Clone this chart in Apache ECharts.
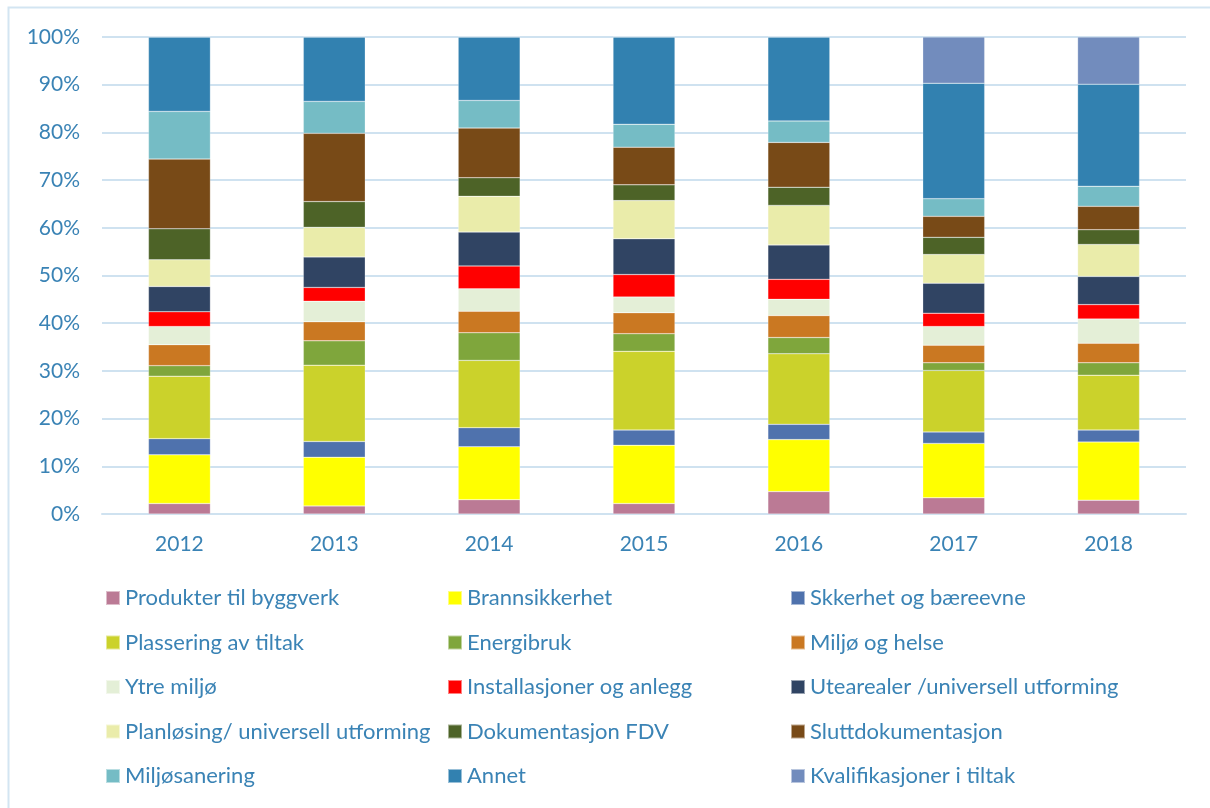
<!DOCTYPE html>
<html>
<head>
<meta charset="utf-8">
<script src="https://cdn.jsdelivr.net/npm/echarts@6/dist/echarts.min.js"></script>
<style>
  html, body { margin: 0; padding: 0; background: #fff; }
  #chart { width: 1210px; height: 808px; }
</style>
</head>
<body>
<div id="chart"></div>
<script>
var years = ['2012', '2013', '2014', '2015', '2016', '2017', '2018'];
var yTicks = [0, 10, 20, 30, 40, 50, 60, 70, 80, 90, 100];

// share of each category per year, in percent (bottom to top of each bar)
var produkter    = [2.2, 1.7, 3.0, 2.2, 4.7, 3.4, 2.9];
var brann        = [10.2, 10.2, 11.1, 12.2, 10.9, 11.4, 12.2];
var sikkerhet    = [3.4, 3.3, 4.0, 3.2, 3.2, 2.4, 2.5];
var plassering   = [13.1, 16.0, 14.1, 16.5, 14.8, 12.9, 11.5];
var energi       = [2.2, 5.1, 5.8, 3.7, 3.4, 1.6, 2.6];
var miljoHelse   = [4.4, 4.0, 4.5, 4.4, 4.6, 3.7, 4.1];
var ytreMiljo    = [3.8, 4.3, 4.7, 3.3, 3.4, 3.9, 5.1];
var installasjon = [3.1, 2.9, 4.8, 4.7, 4.2, 2.8, 3.0];
var utearealer   = [5.3, 6.4, 7.1, 7.5, 7.2, 6.3, 5.9];
var planlosing   = [5.6, 6.2, 7.5, 8.0, 8.3, 6.0, 6.7];
var dokFdv       = [6.5, 5.4, 3.9, 3.3, 3.8, 3.6, 3.1];
var sluttdok     = [14.6, 14.3, 10.4, 7.9, 9.4, 4.4, 4.9];
var miljosanering= [10.0, 6.7, 5.8, 4.8, 4.5, 3.7, 4.2];
var annet        = [15.6, 13.5, 13.3, 18.3, 17.6, 24.2, 21.4];
var kvalifikasjon= [0, 0, 0, 0, 0, 9.7, 9.9];

var names = [
  'Produkter til byggverk', 'Brannsikkerhet', 'Skkerhet og bæreevne',
  'Plassering av tiltak', 'Energibruk', 'Miljø og helse',
  'Ytre miljø', 'Installasjoner og anlegg', 'Utearealer /universell utforming',
  'Planløsing/ universell utforming', 'Dokumentasjon FDV', 'Sluttdokumentasjon',
  'Miljøsanering', 'Annet', 'Kvalifikasjoner i tiltak'
];
var values = [produkter, brann, sikkerhet, plassering, energi, miljoHelse, ytreMiljo,
  installasjon, utearealer, planlosing, dokFdv, sluttdok, miljosanering, annet, kvalifikasjon];
var colors = ['#bb7a95', '#ffff00', '#4f72ad', '#cbd22b', '#7fa63c', '#ca7822', '#e4efd7',
  '#ff0000', '#304463', '#eaecaa', '#4d6327', '#784a17', '#75bcc5', '#3281b0', '#728cbd'];

var blue = '#3a83b5';
var font = 'Lato';

var series = names.map(function (n, i) {
  return {
    name: n,
    type: 'bar',
    stack: 'total',
    barWidth: '40%',
    data: values[i],
    itemStyle: { color: colors[i], borderColor: 'rgba(255,255,255,0.5)', borderWidth: 0.5 }
  };
});

// legend in three columns, row-major like the original
function legendCol(col, left) {
  var d = names.filter(function (n, i) { return i % 3 === col; });
  return {
    data: d,
    orient: 'vertical',
    left: left,
    top: 582,
    itemWidth: 14,
    itemHeight: 14,
    itemGap: 22.5,
    icon: 'rect',
    textStyle: { color: blue, fontSize: 22, lineHeight: 22, fontFamily: font }
  };
}

var chart = echarts.init(document.getElementById('chart'));
chart.setOption({
  backgroundColor: '#fff',
  animation: false,
  color: colors,
  graphic: [{
    type: 'rect',
    shape: { x: 8.5, y: 7.5, width: 1300, height: 900 },
    style: { fill: 'none', stroke: '#d3e5f2', lineWidth: 2 },
    silent: true
  }],
  grid: { left: 102, right: 24, top: 37, height: 477 },
  legend: [legendCol(0, 100), legendCol(1, 442), legendCol(2, 785)],
  xAxis: {
    type: 'category',
    data: years,
    axisLine: { lineStyle: { color: '#cfe2f0', width: 2 } },
    axisTick: { show: false },
    axisLabel: { color: blue, fontSize: 21, fontFamily: font, margin: 20 }
  },
  yAxis: {
    type: 'value',
    min: yTicks[0],
    max: yTicks[yTicks.length - 1],
    interval: 10,
    axisLine: { show: false },
    axisTick: { show: false },
    axisLabel: { color: blue, fontSize: 21, fontFamily: font, margin: 22, formatter: '{value}%' },
    splitLine: { lineStyle: { color: '#cfe2f0', width: 2 } }
  },
  series: series
});
</script>
</body>
</html>
